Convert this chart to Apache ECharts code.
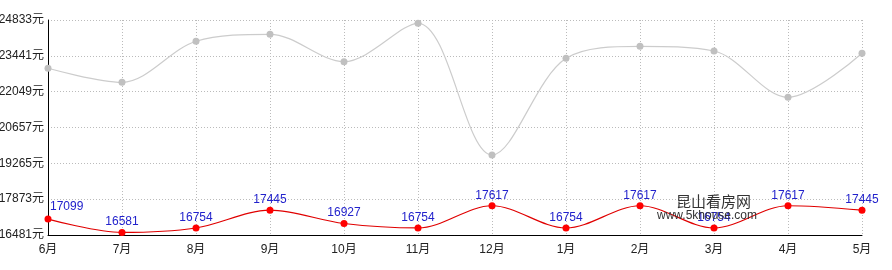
<!DOCTYPE html>
<html><head><meta charset="utf-8">
<script src="https://cdn.jsdelivr.net/npm/echarts@6/dist/echarts.min.js"></script>
<style>html,body{margin:0;padding:0;background:#fff}#c{width:892px;height:270px}</style>
</head><body><div id="c"></div>
<script>
var categories = ['6月','7月','8月','9月','10月','11月','12月','1月','2月','3月','4月','5月'];
var grayValues = [22957, 22413, 24006, 24278, 23214, 24705, 19589, 23345, 23811, 23629, 21830, 23539];
var redValues = [17099, 16581, 16754, 17445, 16927, 16754, 17617, 16754, 17617, 16754, 17617, 17445];
var yMin = 16481, yMax = 24833, yStep = 1392;

var chart = echarts.init(document.getElementById('c'));
var font = '"Liberation Sans", Arial, "Noto Sans CJK SC", sans-serif';
var redData = redValues.map(function (v, i) {
  if (i === 0) return { value: v, label: { align: 'left', offset: [2, -2] } };
  return v;
});
chart.setOption({
  animation: false,
  grid: { left: 48, right: 30, top: 20, bottom: 35, containLabel: false, outerBoundsMode: 'none' },
  xAxis: {
    type: 'category', data: categories, boundaryGap: false,
    axisLine: { lineStyle: { color: '#000', width: 1 } },
    axisTick: { show: false },
    axisLabel: { color: '#222', fontSize: 12, fontFamily: font, margin: 9 },
    splitLine: { show: true, lineStyle: { color: '#bbb', type: [1, 2] } }
  },
  yAxis: {
    type: 'value', min: yMin, max: yMax, interval: yStep,
    axisLine: { show: true, lineStyle: { color: '#000', width: 1 } },
    axisTick: { show: false },
    axisLabel: { color: '#222', fontSize: 12, fontFamily: font, margin: 4,
      formatter: function (v) { return String(v) + '元'; } },
    splitLine: { show: true, lineStyle: { color: '#bbb', type: [1, 2] } }
  },
  series: [
    {
      type: 'line', data: grayValues, smooth: 0.33,
      symbol: 'circle', symbolSize: 7,
      lineStyle: { color: '#cccccc', width: 1.2 },
      itemStyle: { color: '#c0c0c0' },
      z: 2
    },
    {
      type: 'line', data: redData, smooth: 0.33,
      symbol: 'circle', symbolSize: 7,
      lineStyle: { color: '#e00000', width: 1.2 },
      itemStyle: { color: '#ff0000' },
      label: { show: true, position: 'top', distance: 1, color: '#2222cc', fontSize: 12, fontFamily: font },
      z: 3
    }
  ],
  graphic: [
    { type: 'text', left: 676, top: 194, z: 100,
      style: { text: '昆山看房网', fill: '#333', font: '15px "Noto Sans CJK SC", sans-serif' } },
    { type: 'text', left: 657, top: 210, z: 100,
      style: { text: 'www.5khouse.com', fill: '#333', font: '12px ' + font } }
  ]
});
</script></body></html>
